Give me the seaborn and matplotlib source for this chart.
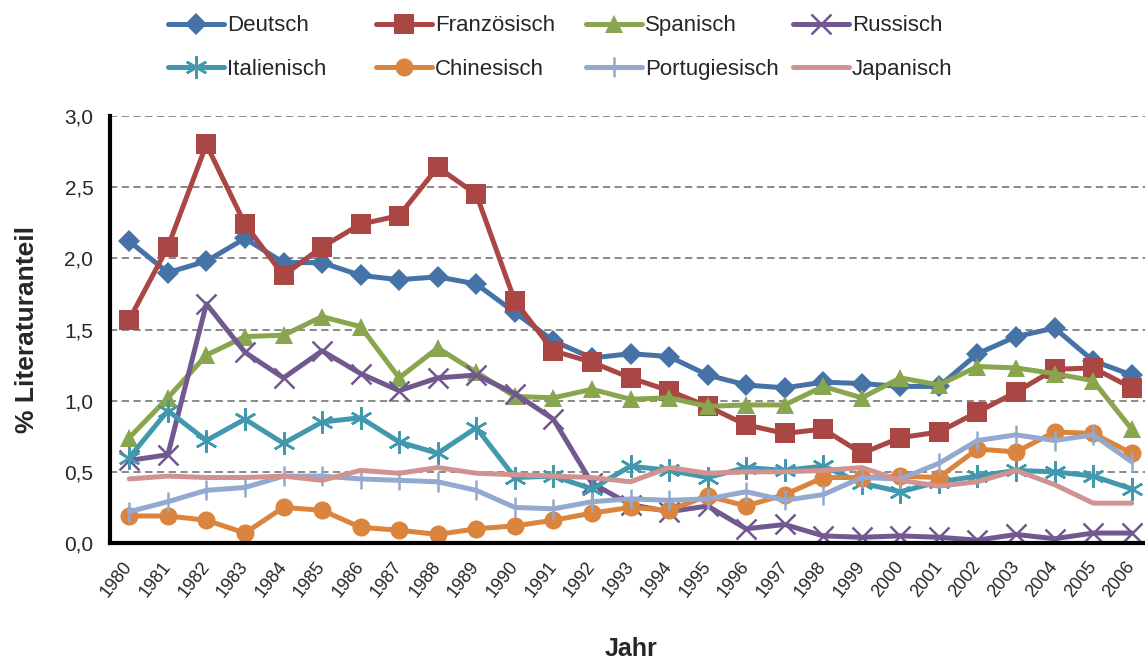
import matplotlib
matplotlib.use('Agg')
import matplotlib.pyplot as plt
import matplotlib.ticker as mticker
import seaborn as sns
import pandas as pd

# Data
years = list(range(1980, 2007))
deutsch = [2.12, 1.90, 1.98, 2.14, 1.97, 1.97, 1.88, 1.85, 1.87, 1.82, 1.62, 1.42, 1.30,
           1.33, 1.31, 1.18, 1.11, 1.09, 1.13, 1.12, 1.10, 1.10, 1.33, 1.45, 1.51, 1.28, 1.18]
franzoesisch = [1.57, 2.08, 2.80, 2.24, 1.88, 2.08, 2.24, 2.30, 2.64, 2.45, 1.70, 1.35, 1.27,
                1.16, 1.07, 0.96, 0.83, 0.77, 0.80, 0.63, 0.74, 0.78, 0.92, 1.06, 1.22, 1.23, 1.09]
spanisch = [0.74, 1.02, 1.32, 1.45, 1.46, 1.59, 1.52, 1.16, 1.37, 1.20, 1.03, 1.02, 1.08,
            1.01, 1.02, 0.96, 0.97, 0.97, 1.10, 1.02, 1.16, 1.11, 1.24, 1.23, 1.19, 1.14, 0.80]
russisch = [0.58, 0.62, 1.68, 1.34, 1.16, 1.35, 1.19, 1.07, 1.16, 1.18, 1.05, 0.87, 0.42,
            0.27, 0.22, 0.26, 0.10, 0.13, 0.05, 0.04, 0.05, 0.04, 0.02, 0.06, 0.03, 0.07, 0.07]
italienisch = [0.60, 0.93, 0.72, 0.87, 0.70, 0.85, 0.88, 0.71, 0.63, 0.81, 0.46, 0.47, 0.38,
               0.54, 0.51, 0.46, 0.53, 0.51, 0.54, 0.42, 0.36, 0.43, 0.47, 0.51, 0.50, 0.47, 0.38]
chinesisch = [0.19, 0.19, 0.16, 0.07, 0.25, 0.23, 0.11, 0.09, 0.06, 0.10, 0.12, 0.16, 0.21,
              0.25, 0.23, 0.33, 0.26, 0.34, 0.46, 0.46, 0.47, 0.46, 0.66, 0.64, 0.78, 0.77, 0.63]
portugiesisch = [0.22, 0.29, 0.37, 0.39, 0.47, 0.47, 0.45, 0.44, 0.43, 0.37, 0.25, 0.24, 0.29,
                 0.31, 0.30, 0.31, 0.36, 0.30, 0.34, 0.46, 0.45, 0.56, 0.72, 0.76, 0.72, 0.76, 0.57]
japanisch = [0.45, 0.47, 0.46, 0.46, 0.47, 0.44, 0.51, 0.49, 0.53, 0.49, 0.48, 0.47, 0.46,
             0.43, 0.53, 0.49, 0.50, 0.50, 0.51, 0.53, 0.44, 0.40, 0.43, 0.51, 0.41, 0.28, 0.28]

series = {
    'Deutsch': deutsch,
    'Französisch': franzoesisch,
    'Spanisch': spanisch,
    'Russisch': russisch,
    'Italienisch': italienisch,
    'Chinesisch': chinesisch,
    'Portugiesisch': portugiesisch,
    'Japanisch': japanisch,
}

colors = ['#4572A7', '#AA4643', '#89A54E', '#71588F', '#4198AF', '#DB843D', '#93A9CF', '#D19392']
markers = ['D', 's', '^', 'x', (6, 2, 0), 'o', '|', None]
msizes = [11, 14, 13, 14, 16, 13, 14, 0]

# long format for seaborn
df = pd.DataFrame({'Jahr': years, **series})
long = df.reset_index().melt(id_vars=['index', 'Jahr'], var_name='Sprache', value_name='Anteil')

sns.set_style('white')
plt.rcParams['font.family'] = ['Liberation Sans', 'DejaVu Sans']

fig = plt.figure(figsize=(11.45, 6.64), dpi=100)
ax = fig.add_axes([110 / 1145, 121 / 664, 1041 / 1145, 427 / 664])

for i, name in enumerate(series):
    sub = long[long['Sprache'] == name]
    mk = markers[i]
    kw = {}
    if mk is not None:
        thin = mk in ('x', '|') or isinstance(mk, tuple)
        kw = dict(marker=mk, markersize=msizes[i], markeredgewidth=1.8 if thin else 0,
                  markeredgecolor=colors[i])
    sns.lineplot(data=sub, x='index', y='Anteil', ax=ax, color=colors[i], linewidth=3.6,
                 label=name, legend=False, **kw)

ax.set_xlim(-0.5, 26.5)
ax.set_ylim(0, 3.0)
ax.set_yticks([0, 0.5, 1.0, 1.5, 2.0, 2.5, 3.0])
ax.yaxis.set_major_formatter(mticker.FuncFormatter(lambda v, p: f'{v:.1f}'.replace('.', ',')))
for y in [0.5, 1.0, 1.5, 2.0, 2.5, 3.0]:
    ax.axhline(y, color='#808080', linestyle=(0, (4, 2.5)), linewidth=1.3, zorder=0)

ax.set_xticks(range(len(years)))
ax.set_xticklabels([str(y) for y in years], rotation=52, ha='right', va='center',
                   rotation_mode='anchor', fontsize=13)
ax.set_xticks([i - 0.5 for i in range(len(years) + 1)], minor=True)
ax.tick_params(axis='x', which='major', length=0, pad=15)
ax.tick_params(axis='x', which='minor', length=9, width=2.2, color='black', direction='out')
ax.tick_params(axis='y', length=6, width=2.2, color='black', direction='out', labelsize=15, pad=6)

for s in ['top', 'right']:
    ax.spines[s].set_visible(False)
for s in ['left', 'bottom']:
    ax.spines[s].set_color('black')
    ax.spines[s].set_linewidth(3)

ax.set_xlabel('Jahr', fontsize=18, fontweight='bold', labelpad=26)
ax.set_ylabel('% Literaturanteil', fontsize=19, fontweight='bold', labelpad=18)

# legend: 4 columns with equal pitch, 2 rows
handles = ax.get_lines()[:len(series)]
names = list(series)
col_x = [168, 376, 586, 793]
for c in range(4):
    leg = fig.legend([handles[c], handles[c + 4]], [names[c], names[c + 4]],
                     loc='center left', bbox_to_anchor=(col_x[c] / 1145, 1 - 47.5 / 664),
                     frameon=False, fontsize=16, handlelength=2.5, handletextpad=0.15,
                     labelspacing=1.0, borderpad=0, borderaxespad=0)

fig.savefig('out.png', dpi=100)
